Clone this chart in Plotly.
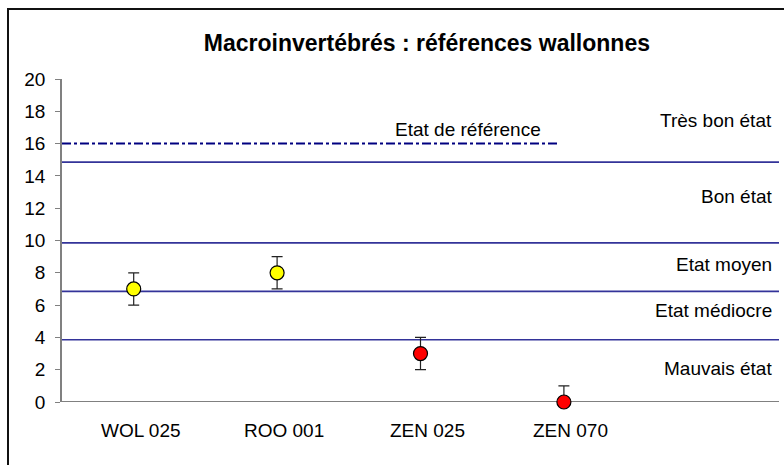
import plotly.graph_objects as go

# Sites and macroinvertebrate index values (with ±1 uncertainty)
sites = ["WOL 025", "ROO 001", "ZEN 025", "ZEN 070", " "]
site_values = [7, 8, 3, 0]
err_plus = [1, 1, 1, 1]
err_minus = [1, 1, 1, 0]
marker_colors = ["#FFFF00", "#FFFF00", "#FF0000", "#FF0000"]

# Quality class boundaries and labels
class_bounds = [14.85, 9.85, 6.85, 3.85]
class_labels = ["Très bon état", "Bon état", "Etat moyen", "Etat médiocre", "Mauvais état"]
class_label_y = [17.45, 12.75, 8.5, 5.65, 2.1]

# Reference state
ref_level = 16
ref_label = "Etat de référence"
ref_extent = 2.97

y_ticks = list(range(0, 21, 2))

font_family = "Liberation Sans, Arial, sans-serif"
label_size = 19

fig = go.Figure()

fig.add_trace(go.Scatter(
    x=sites[:4],
    y=site_values,
    mode="markers",
    marker=dict(size=14, color=marker_colors, line=dict(color="black", width=1.2)),
    error_y=dict(type="data", symmetric=False, array=err_plus, arrayminus=err_minus,
                 color="#222222", thickness=1.2, width=5.5),
    cliponaxis=False,
    showlegend=False,
))

# Invisible trace so the fifth (empty) category occupies the axis
fig.add_trace(go.Scatter(x=[sites[4]], y=[None], mode="markers", showlegend=False,
                         hoverinfo="skip"))

shapes = []
for b in class_bounds:
    shapes.append(dict(type="line", xref="paper", yref="y", x0=0, x1=1, y0=b, y1=b,
                       line=dict(color="#333399", width=1.6), layer="below"))
shapes.append(dict(type="line", xref="x", yref="y", x0=-0.5, x1=ref_extent,
                   y0=ref_level, y1=ref_level,
                   line=dict(color="#000080", width=2, dash="9px,3px,3px,3px"), layer="below"))
# Outer chart frame
shapes.append(dict(type="rect", xref="paper", yref="paper",
                   x0=-54 / 717, x1=1.05, y0=1 + 70 / 323, y1=-0.3,
                   line=dict(color="#111111", width=2), fillcolor="rgba(0,0,0,0)", layer="below"))

annotations = []
for lab, ly in zip(class_labels, class_label_y):
    annotations.append(dict(x=0.9935, xref="paper", y=ly, yref="y", text=lab, showarrow=False,
                            xanchor="right", yanchor="middle",
                            font=dict(family=font_family, size=label_size, color="black")))
annotations.append(dict(x=2.33, xref="x", y=16.9, yref="y", text=ref_label, showarrow=False,
                        xanchor="center", yanchor="middle",
                        font=dict(family=font_family, size=label_size, color="black")))
# Site labels under the axis
for s in sites[:4]:
    annotations.append(dict(x=s, xref="x", y=-28 / 323, yref="paper", text=s, showarrow=False,
                            xanchor="center", yanchor="middle", xshift=7,
                            font=dict(family=font_family, size=label_size, color="black")))

fig.update_layout(
    width=784, height=465,
    margin=dict(l=62, r=5, t=79, b=63),
    paper_bgcolor="white", plot_bgcolor="white",
    title=dict(text="<b>Macroinvertébrés : références wallonnes</b>",
               x=399 / 784, xref="paper", xanchor="center",
               y=1 - 43 / 465, yref="container", yanchor="middle",
               font=dict(family=font_family, size=23, color="black")),
    font=dict(family=font_family, size=label_size, color="black"),
    shapes=shapes,
    annotations=annotations,
    xaxis=dict(type="category", categoryorder="array", categoryarray=sites,
               range=[-0.5, 4.5], showgrid=False, zeroline=False,
               showline=False, ticks="", showticklabels=False),
    yaxis=dict(range=[0, 20], tickvals=y_ticks, showgrid=False, zeroline=False,
               showline=True, linecolor="#808080", linewidth=1.5,
               ticks="outside", ticklen=5, tickcolor="#808080", tickwidth=1,
               ticklabelstandoff=6,
               tickfont=dict(family=font_family, size=label_size, color="black")),
)

# x-axis baseline at zero
fig.add_hline(y=0, line=dict(color="#808080", width=2), layer="below")

fig.write_html("out.html")
